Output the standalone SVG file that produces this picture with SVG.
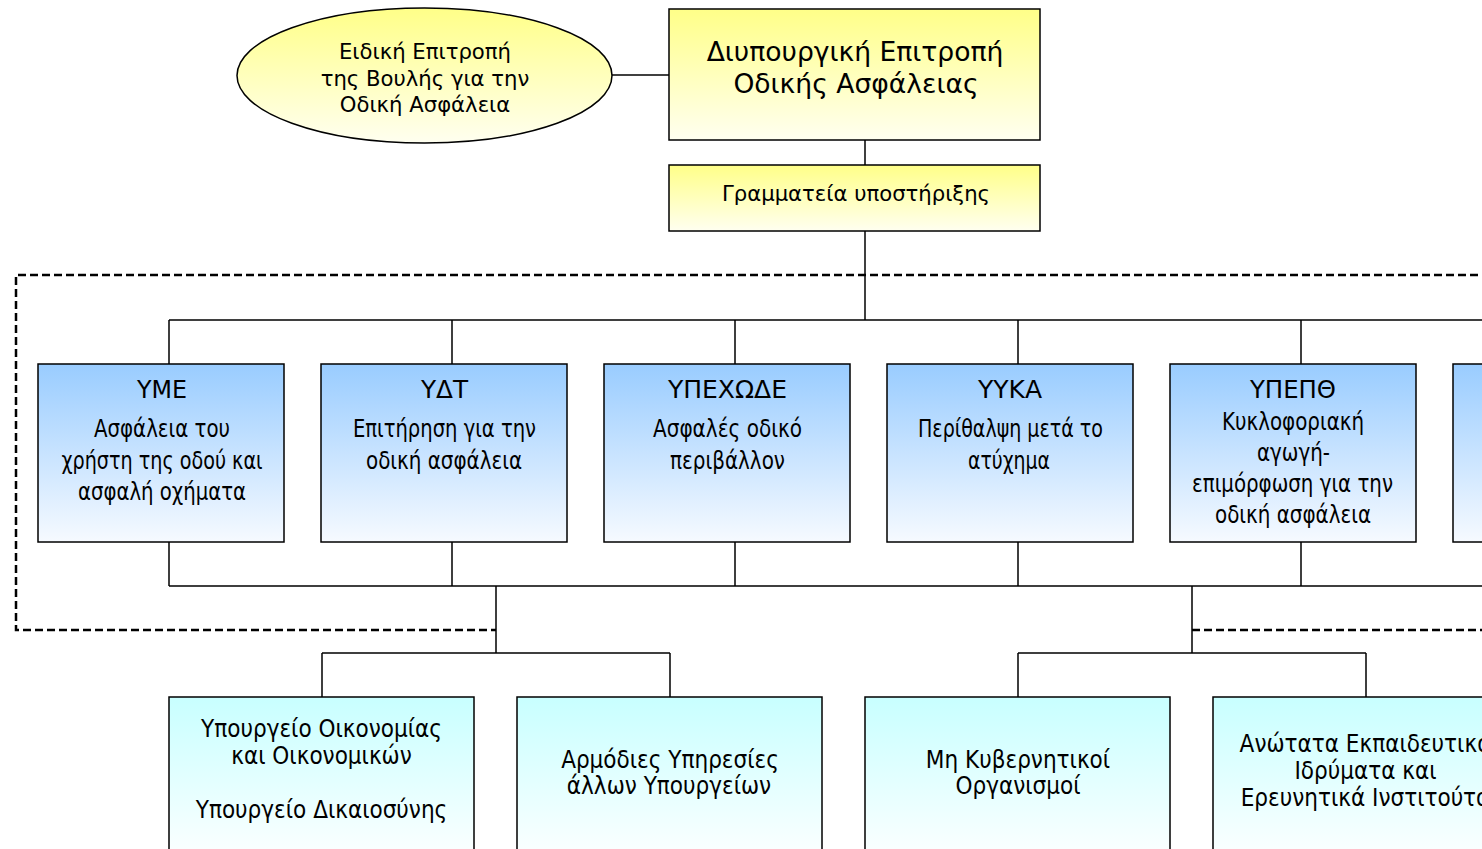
<svg xmlns="http://www.w3.org/2000/svg" width="1482" height="849" viewBox="0 0 1482 849">
<defs>
<linearGradient id="gYel" x1="0" y1="0" x2="0" y2="1"><stop offset="0" stop-color="#ffff88"/><stop offset="1" stop-color="#fffff0"/></linearGradient>
<linearGradient id="gBlue" x1="0" y1="0" x2="0" y2="1"><stop offset="0" stop-color="#99ccff"/><stop offset="1" stop-color="#f6faff"/></linearGradient>
<linearGradient id="gCyan" x1="0" y1="0" x2="0" y2="1"><stop offset="0" stop-color="#c8ffff"/><stop offset="1" stop-color="#ffffff"/></linearGradient>
<style>
.box{stroke:#000;stroke-width:1.5}
.ln{stroke:#000;stroke-width:1.5;fill:none}
.dash{stroke:#000;stroke-width:2.5;fill:none;stroke-dasharray:8 4}
.v{font-family:"DejaVu Sans","Liberation Sans",sans-serif;fill:#000;text-anchor:middle}
.n{font-family:"DejaVu Sans Condensed","Liberation Sans",sans-serif;font-size:24.5px;fill:#000;text-anchor:middle}
.c{font-family:"DejaVu Sans Condensed","DejaVu Sans",sans-serif;font-size:24px;fill:#000;text-anchor:middle}
</style>
</defs>
<g id="frame">
<path class="dash" d="M1490,275 H16 V630 H496"/>
<path class="dash" d="M1192,630 H1490"/>
</g>
<g id="connectors">
<path class="ln" d="M612,75 H669"/>
<path class="ln" d="M865,140 V165"/>
<path class="ln" d="M865,231 V320"/>
<path class="ln" d="M169,320 H1490 M169,320 V364 M452,320 V364 M735,320 V364 M1018,320 V364 M1301,320 V364"/>
<path class="ln" d="M169,586 H1490 M169,542 V586 M452,542 V586 M735,542 V586 M1018,542 V586 M1301,542 V586"/>
<path class="ln" d="M496,586 V653 M322,653 H670 M322,653 V697 M670,653 V697"/>
<path class="ln" d="M1192,586 V653 M1018,653 H1366 M1018,653 V697 M1366,653 V697"/>
</g>
<g id="parliament">
<ellipse class="box" cx="424.5" cy="75.5" rx="187.5" ry="67.5" fill="url(#gYel)"/>
<text class="v" font-size="21.2" x="425" y="59">Ειδική Επιτροπή</text>
<text class="v" font-size="21.2" x="425" y="86">της Βουλής για την</text>
<text class="v" font-size="21.2" x="425" y="112">Οδική Ασφάλεια</text>
</g>
<g id="committee">
<rect class="box" x="669" y="9" width="371" height="131" fill="url(#gYel)"/>
<text class="v" font-size="26.6" x="855" y="61">Διυπουργική Επιτροπή</text>
<text class="v" font-size="26.6" x="856" y="93">Οδικής Ασφάλειας</text>
</g>
<g id="secretariat">
<rect class="box" x="669" y="165" width="371" height="66" fill="url(#gYel)"/>
<text class="v" font-size="21.2" x="856" y="201">Γραμματεία υποστήριξης</text>
</g>
<g id="yme">
<rect class="box" x="38" y="364" width="246" height="178" fill="url(#gBlue)"/>
<text class="n" x="162" y="398" textLength="50" lengthAdjust="spacingAndGlyphs">ΥΜΕ</text>
<text class="n" x="162" y="437" textLength="136" lengthAdjust="spacingAndGlyphs">Ασφάλεια του</text>
<text class="n" x="162" y="469" textLength="201" lengthAdjust="spacingAndGlyphs">χρήστη της οδού και</text>
<text class="n" x="162" y="500" textLength="168" lengthAdjust="spacingAndGlyphs">ασφαλή οχήματα</text>
</g>
<g id="ydt">
<rect class="box" x="321" y="364" width="246" height="178" fill="url(#gBlue)"/>
<text class="n" x="444.5" y="398" textLength="47" lengthAdjust="spacingAndGlyphs">ΥΔΤ</text>
<text class="n" x="444.5" y="437" textLength="183" lengthAdjust="spacingAndGlyphs">Επιτήρηση για την</text>
<text class="n" x="444" y="469" textLength="156" lengthAdjust="spacingAndGlyphs">οδική ασφάλεια</text>
</g>
<g id="ypexode">
<rect class="box" x="604" y="364" width="246" height="178" fill="url(#gBlue)"/>
<text class="n" x="727.5" y="398" textLength="119" lengthAdjust="spacingAndGlyphs">ΥΠΕΧΩΔΕ</text>
<text class="n" x="727.5" y="437" textLength="149" lengthAdjust="spacingAndGlyphs">Ασφαλές οδικό</text>
<text class="n" x="727.5" y="469" textLength="115" lengthAdjust="spacingAndGlyphs">περιβάλλον</text>
</g>
<g id="yyka">
<rect class="box" x="887" y="364" width="246" height="178" fill="url(#gBlue)"/>
<text class="n" x="1010" y="398" textLength="64" lengthAdjust="spacingAndGlyphs">ΥΥΚΑ</text>
<text class="n" x="1010.5" y="437" textLength="185" lengthAdjust="spacingAndGlyphs">Περίθαλψη μετά το</text>
<text class="n" x="1009" y="469" textLength="82" lengthAdjust="spacingAndGlyphs">ατύχημα</text>
</g>
<g id="ypepth">
<rect class="box" x="1170" y="364" width="246" height="178" fill="url(#gBlue)"/>
<text class="n" x="1293" y="398" textLength="86" lengthAdjust="spacingAndGlyphs">ΥΠΕΠΘ</text>
<text class="n" x="1293" y="430" textLength="142" lengthAdjust="spacingAndGlyphs">Κυκλοφοριακή</text>
<text class="n" x="1293.5" y="461" textLength="73" lengthAdjust="spacingAndGlyphs">αγωγή-</text>
<text class="n" x="1292.5" y="492" textLength="201" lengthAdjust="spacingAndGlyphs">επιμόρφωση για την</text>
<text class="n" x="1293" y="523" textLength="156" lengthAdjust="spacingAndGlyphs">οδική ασφάλεια</text>
</g>
<g id="ministry6">
<rect class="box" x="1453" y="364" width="246" height="178" fill="url(#gBlue)"/>
</g>
<g id="finance">
<rect class="box" x="169" y="697" width="305" height="170" fill="url(#gCyan)"/>
<text class="c" x="321.5" y="737">Υπουργείο Οικονομίας</text>
<text class="c" x="321.5" y="764">και Οικονομικών</text>
<text class="c" x="321.5" y="818">Υπουργείο Δικαιοσύνης</text>
</g>
<g id="services">
<rect class="box" x="517" y="697" width="305" height="170" fill="url(#gCyan)"/>
<text class="c" x="670" y="768">Αρμόδιες Υπηρεσίες</text>
<text class="c" x="669" y="794">άλλων Υπουργείων</text>
</g>
<g id="ngo">
<rect class="box" x="865" y="697" width="305" height="170" fill="url(#gCyan)"/>
<text class="c" x="1018" y="768">Μη Κυβερνητικοί</text>
<text class="c" x="1018" y="794">Οργανισμοί</text>
</g>
<g id="universities">
<rect class="box" x="1213" y="697" width="305" height="170" fill="url(#gCyan)"/>
<text class="c" x="1365.5" y="752">Ανώτατα Εκπαιδευτικά</text>
<text class="c" x="1365.5" y="779">Ιδρύματα και</text>
<text class="c" x="1365.5" y="806">Ερευνητικά Ινστιτούτα</text>
</g>
</svg>
